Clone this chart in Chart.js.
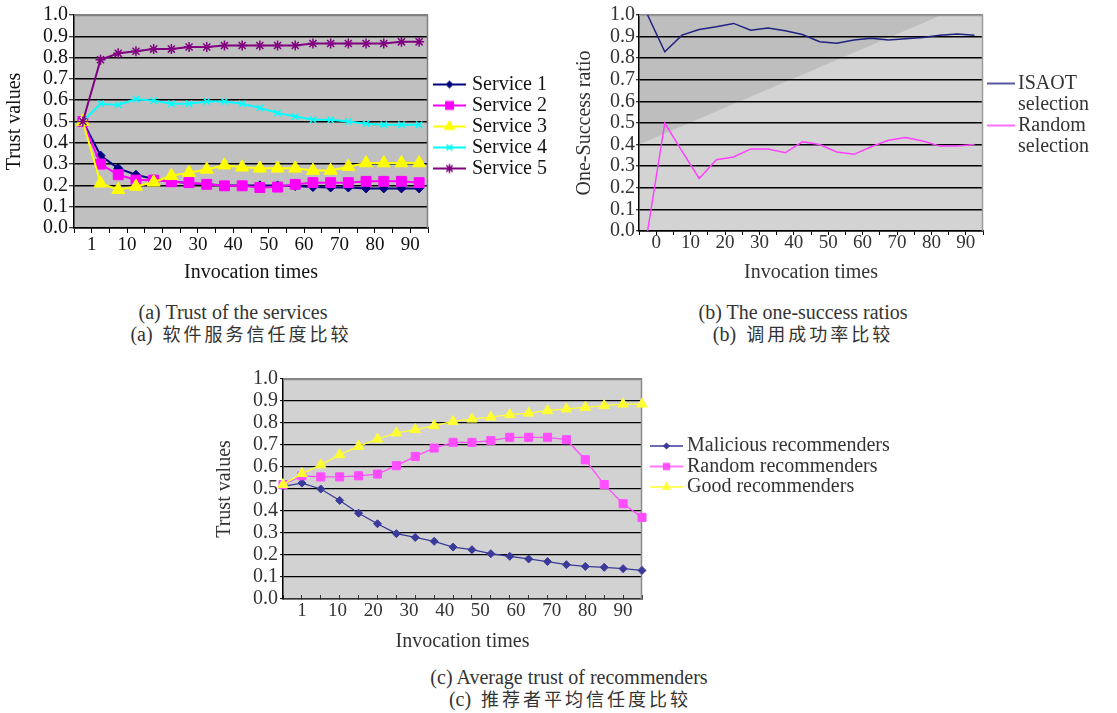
<!DOCTYPE html>
<html>
<head>
<meta charset="utf-8">
<title>Trust charts</title>
<script src="https://cdn.jsdelivr.net/npm/chart.js@4.4.1/dist/chart.umd.min.js"></script>
<style>
  html, body { margin: 0; padding: 0; background: #fff; }
  body { position: relative; width: 1117px; height: 713px; overflow: hidden; font-family: "Liberation Serif", serif; }
  canvas { position: absolute; }
  .cap { position: absolute; transform: translateX(-50%); white-space: nowrap; font-size: 20px; line-height: 22px; color: #333; }
  .cap .zh { font-family: "Noto Sans CJK SC", sans-serif; font-size: 18px; letter-spacing: 3px; }
</style>
</head>
<body>
<canvas id="chartA" width="565" height="292" style="left:0;top:0"></canvas>
<canvas id="chartB" width="547" height="292" style="left:570px;top:0"></canvas>
<canvas id="chartC" width="700" height="300" style="left:205px;top:365px"></canvas>

<div class="cap" style="left:233px;top:301px">(a) Trust of the services</div>
<div class="cap" style="left:241px;top:322px">(a)&nbsp; <span class="zh">软件服务信任度比较</span></div>
<div class="cap" style="left:803px;top:301px">(b) The one-success ratios</div>
<div class="cap" style="left:803px;top:322px">(b)&nbsp; <span class="zh">调用成功率比较</span></div>
<div class="cap" style="left:569px;top:666px">(c) Average trust of recommenders</div>
<div class="cap" style="left:570px;top:687px">(c)&nbsp; <span class="zh">推荐者平均信任度比较</span></div>

<script>
const serif = '"Liberation Serif", "Times New Roman", serif';
Chart.defaults.font.family = serif;

// (a) trust of the services
const aTickLabels = ['1', '10', '20', '30', '40', '50', '60', '70', '80', '90'];
const aNames = ['Service 1', 'Service 2', 'Service 3', 'Service 4', 'Service 5'];
const aService1 = [0.50, 0.34, 0.28, 0.25, 0.23, 0.22, 0.21, 0.205, 0.20, 0.20, 0.20, 0.20, 0.197, 0.192, 0.19, 0.19, 0.186, 0.186, 0.186, 0.186];
const aService2 = [0.50, 0.30, 0.25, 0.225, 0.225, 0.217, 0.213, 0.205, 0.198, 0.198, 0.19, 0.192, 0.205, 0.213, 0.213, 0.213, 0.219, 0.219, 0.219, 0.213];
const aService3 = [0.50, 0.21, 0.18, 0.195, 0.215, 0.245, 0.26, 0.275, 0.295, 0.285, 0.28, 0.28, 0.28, 0.27, 0.27, 0.288, 0.305, 0.305, 0.305, 0.305];
const aService4 = [0.50, 0.583, 0.578, 0.605, 0.598, 0.583, 0.583, 0.594, 0.594, 0.583, 0.564, 0.54, 0.523, 0.508, 0.508, 0.50, 0.49, 0.485, 0.485, 0.485];
const aService5 = [0.50, 0.79, 0.82, 0.83, 0.84, 0.84, 0.85, 0.85, 0.857, 0.857, 0.857, 0.857, 0.857, 0.866, 0.866, 0.866, 0.866, 0.866, 0.874, 0.874];

// (b) one-success ratios
const bTickLabels = ['0', '10', '20', '30', '40', '50', '60', '70', '80', '90'];
const bNames = [['ISAOT', 'selection'], ['Random', 'selection']];
const bIsaot = [1.0, 0.83, 0.907, 0.933, 0.946, 0.961, 0.93, 0.94, 0.927, 0.91, 0.876, 0.869, 0.884, 0.892, 0.884, 0.89, 0.896, 0.906, 0.912, 0.906];
const bRandom = [0.0, 0.50, 0.37, 0.243, 0.33, 0.343, 0.38, 0.38, 0.362, 0.413, 0.40, 0.366, 0.355, 0.39, 0.42, 0.433, 0.417, 0.393, 0.393, 0.40];

// (c) average trust of recommenders
const cTickLabels = ['1', '10', '20', '30', '40', '50', '60', '70', '80', '90'];
const cNames = ['Malicious recommenders', 'Random recommenders', 'Good recommenders'];
const cMalicious = [0.512, 0.527, 0.50, 0.448, 0.39, 0.342, 0.297, 0.28, 0.262, 0.236, 0.224, 0.206, 0.194, 0.182, 0.17, 0.156, 0.148, 0.144, 0.138, 0.13];
const cRandom = [0.52, 0.56, 0.555, 0.555, 0.56, 0.568, 0.606, 0.648, 0.686, 0.712, 0.712, 0.72, 0.735, 0.735, 0.735, 0.724, 0.633, 0.52, 0.433, 0.371];
const cGood = [0.52, 0.57, 0.61, 0.656, 0.694, 0.727, 0.755, 0.77, 0.788, 0.807, 0.818, 0.827, 0.838, 0.845, 0.856, 0.864, 0.871, 0.879, 0.886, 0.886];

function pts(arr) {
  return arr.map((y, i) => ({x: i, y: y}));
}

// small legend picture: a line with the marker in its middle
function makeIcon(color, style, width, r, lw) {
  const c = document.createElement('canvas');
  c.width = width;
  c.height = 18;
  const g = c.getContext('2d');
  const y = 9, cx = width / 2;
  g.strokeStyle = color;
  g.fillStyle = color;
  g.lineWidth = lw;
  g.beginPath();
  g.moveTo(0, y);
  g.lineTo(width, y);
  g.stroke();
  g.lineWidth = 1.5;
  g.beginPath();
  if (style === 'rectRot') {
    g.moveTo(cx - r, y); g.lineTo(cx, y - r); g.lineTo(cx + r, y); g.lineTo(cx, y + r);
    g.closePath(); g.fill();
  } else if (style === 'rect') {
    const s = r * Math.SQRT1_2;
    g.fillRect(cx - s, y - s, 2 * s, 2 * s);
  } else if (style === 'triangle') {
    g.moveTo(cx, y - r); g.lineTo(cx + r * 0.866, y + r / 2); g.lineTo(cx - r * 0.866, y + r / 2);
    g.closePath(); g.fill();
  } else if (style === 'crossRot' || style === 'star') {
    const d = r * Math.SQRT1_2;
    g.moveTo(cx - d, y - d); g.lineTo(cx + d, y + d);
    g.moveTo(cx + d, y - d); g.lineTo(cx - d, y + d);
    if (style === 'star') {
      g.moveTo(cx, y - r); g.lineTo(cx, y + r);
      g.moveTo(cx - r, y); g.lineTo(cx + r, y);
    }
    g.stroke();
  }
  return c;
}

function lineSet(label, data, color, style, radius, lw, order) {
  const thin = style === 'star' || style === 'crossRot';
  return {
    label: label, data: pts(data), order: order,
    borderColor: color, backgroundColor: color, borderWidth: lw, tension: 0, clip: false,
    pointStyle: style, pointRadius: radius, pointHoverRadius: radius,
    pointBackgroundColor: color, pointBorderColor: color, pointBorderWidth: thin ? 1.5 : 1
  };
}

// grey plot background, and the grey frame on top/right
const plotBg = {
  id: 'plotBg',
  beforeDraw(chart, args, opts) {
    const {ctx, chartArea: a} = chart;
    ctx.save();
    ctx.fillStyle = opts.color;
    ctx.fillRect(a.left, a.top, a.width, a.height);
    if (opts.shade) {
      const y0 = chart.scales.y.getPixelForValue(opts.shade.from);
      ctx.fillStyle = opts.shade.color;
      ctx.beginPath();
      ctx.moveTo(a.left, a.top);
      ctx.lineTo(a.left + a.width * opts.shade.to, a.top);
      ctx.lineTo(a.left, y0);
      ctx.closePath();
      ctx.fill();
    }
    ctx.restore();
  },
  beforeDatasetsDraw(chart, args, opts) {
    const {ctx, chartArea: a} = chart;
    ctx.save();
    ctx.strokeStyle = opts.frame;
    ctx.lineWidth = 1.5;
    ctx.beginPath();
    ctx.moveTo(a.left, a.top + 0.5);
    ctx.lineTo(a.right - 0.5, a.top + 0.5);
    ctx.lineTo(a.right - 0.5, a.bottom);
    ctx.stroke();
    ctx.restore();
  }
};

// Excel-like legend to the right of the plot: line+marker, then the text
const sideLegend = {
  id: 'sideLegend',
  afterDraw(chart, args, o) {
    if (!o.icons) return;
    const {ctx, chartArea: a} = chart;
    ctx.save();
    ctx.font = '20px ' + serif;
    ctx.fillStyle = o.color;
    ctx.textBaseline = 'middle';
    ctx.textAlign = 'left';
    let y = a.top + o.top;
    chart.data.datasets.forEach((ds, i) => {
      const lines = [].concat(o.texts ? o.texts[i] : ds.label);
      const icon = o.icons[i];
      ctx.drawImage(icon, a.right + o.iconX, y - icon.height / 2);
      lines.forEach((t, j) => ctx.fillText(t, a.right + o.textX, y + j * o.row));
      y += o.row * lines.length;
    });
    ctx.restore();
  }
};
Chart.register(plotBg, sideLegend);

function yAxis(title, width, tl, pad, titlePad, textColor, gridW) {
  return {
    min: 0, max: 1,
    ticks: {stepSize: 0.1, autoSkip: false, padding: pad, color: textColor,
      font: {family: serif, size: 20, lineHeight: 1}, callback: v => v.toFixed(1)},
    grid: {color: c => (c.tick && c.tick.value > 0.999) ? '#808080' : '#000', lineWidth: gridW,
      tickLength: tl, tickColor: '#000', tickWidth: 1},
    border: {color: '#000', width: 1.5},
    title: {display: true, text: title, color: textColor,
      font: {family: serif, size: 20, lineHeight: 1.2}, padding: {top: titlePad, bottom: 0}},
    afterFit(s) { s.width = width; }
  };
}

// x axis whose labels sit between the points (a, b)
function xBoundaryAxis(labels, height, tl, pad, titlePad, textColor) {
  const marks = [];
  for (let i = -1; i < 20; i++) marks.push(i + 0.5);
  return {
    type: 'linear', min: -0.5, max: 19.5,
    afterBuildTicks(s) { s.ticks = marks.map(v => ({value: v})); },
    ticks: {autoSkip: false, maxRotation: 0, padding: pad, color: textColor,
      font: {family: serif, size: 19, lineHeight: 1},
      callback(v) {
        const k = (v - 0.5) / 2;
        return (Number.isInteger(k) && k >= 0 && k < labels.length) ? labels[k] : '';
      }},
    grid: {drawOnChartArea: false, tickLength: tl, tickColor: '#000', tickWidth: 1},
    border: {color: '#000', width: 1.5},
    title: {display: true, text: 'Invocation times', color: textColor,
      font: {family: serif, size: 20, lineHeight: 1.2}, padding: {top: 0, bottom: titlePad}},
    afterFit(s) { s.height = height; }
  };
}

// x axis for (c): inner tick marks on the points, labels spread a bit narrower
function xPointAxis(labels, height, tl, pad, titlePad, textColor) {
  const marks = [];
  for (let i = 0; i < 20; i++) marks.push(i);
  const step = 17 / (labels.length - 1);
  const spots = labels.map((l, k) => 1 + k * step);
  const isInt = v => Math.abs(v - Math.round(v)) < 1e-6;
  const all = marks.concat(spots.filter(v => !isInt(v))).sort((p, q) => p - q);
  return {
    type: 'linear', min: 0, max: 19,
    afterBuildTicks(s) { s.ticks = all.map(v => ({value: v})); },
    ticks: {autoSkip: false, maxRotation: 0, padding: pad, color: textColor,
      font: {family: serif, size: 19, lineHeight: 1},
      callback(v) {
        const k = spots.findIndex(p => Math.abs(p - v) < 1e-6);
        return k >= 0 ? labels[k] : '';
      }},
    grid: {drawOnChartArea: false, tickLength: tl, tickWidth: 1,
      tickColor: c => (!c.tick || isInt(c.tick.value)) ? '#333' : 'rgba(0,0,0,0)'},
    border: {color: '#333', width: 1.5},
    title: {display: true, text: 'Invocation times', color: textColor,
      font: {family: serif, size: 20, lineHeight: 1.2}, padding: {top: 0, bottom: titlePad}},
    afterFit(s) { s.height = height; }
  };
}

const common = {responsive: false, animation: false, devicePixelRatio: 1, events: []};

// ---- chart (a)
const aColors = ['#000080', '#FF00FF', '#FFFF00', '#00FFFF', '#800080'];
const aStyles = ['rectRot', 'rect', 'triangle', 'crossRot', 'star'];
const aRadius = [4.5, 7, 7.5, 4.5, 5];
const aIcons = aColors.map((c, i) => makeIcon(c, aStyles[i], 33, aRadius[i] * 0.9, 2));
const aSeries = [aService1, aService2, aService3, aService4, aService5];

new Chart(document.getElementById('chartA'), {
  type: 'line',
  data: {datasets: aSeries.map((s, i) => lineSet(aNames[i], s, aColors[i], aStyles[i], aRadius[i], 2, -i))},
  options: Object.assign({}, common, {
    layout: {autoPadding: false, padding: {left: 0, top: 15, right: 565 - 428, bottom: 2}},
    scales: {
      x: xBoundaryAxis(aTickLabels, 62, 5, 2.5, 5, '#111'),
      y: yAxis('Trust values', 74, 5, 1, 3, '#111', 1.5)
    },
    plugins: {
      legend: {display: false},
      tooltip: {enabled: false},
      plotBg: {color: '#C0C0C0', frame: '#808080'},
      sideLegend: {icons: aIcons, color: '#111', iconX: 5, textX: 44, top: 69.5, row: 21}
    }
  })
});

// ---- chart (b)
const bColors = ['#202080', '#FF40FF'];
const bIcons = bColors.map(c => makeIcon(c, 'none', 28, 0, 1.5));
const bSeries = [bIsaot, bRandom];

new Chart(document.getElementById('chartB'), {
  type: 'line',
  data: {datasets: bSeries.map((s, i) => lineSet(bNames[i].join(' '), s, bColors[i], false, 0, 1.5, -i))},
  options: Object.assign({}, common, {
    layout: {autoPadding: false, padding: {left: 0, top: 15, right: 547 - 413, bottom: 2}},
    scales: {
      x: xBoundaryAxis(bTickLabels, 59, 4, -1.5, 5, '#333'),
      y: yAxis('One-Success ratio', 69, 3, 1, 3, '#333', 1.5)
    },
    plugins: {
      legend: {display: false},
      tooltip: {enabled: false},
      plotBg: {color: '#D3D3D3', frame: '#9A9A9A', shade: {color: '#BEBEBE', from: 0.4, to: 0.88}},
      sideLegend: {icons: bIcons, texts: bNames, color: '#333', iconX: 4, textX: 35, top: 68.5, row: 21}
    }
  })
});

// ---- chart (c)
const cColors = ['#3A3A9A', '#FF4DFF', '#FFFF33'];
const cStyles = ['rectRot', 'rect', 'triangle'];
const cRadius = [4, 5.7, 6];
const cIcons = cColors.map((c, i) => makeIcon(c, cStyles[i], 33, cRadius[i] * 0.9, 1.5));
const cSeries = [cMalicious, cRandom, cGood];

new Chart(document.getElementById('chartC'), {
  type: 'line',
  data: {datasets: cSeries.map((s, i) => lineSet(cNames[i], s, cColors[i], cStyles[i], cRadius[i], 1.3, -i))},
  options: Object.assign({}, common, {
    layout: {autoPadding: false, padding: {left: 0, top: 14, right: 700 - 437, bottom: 2}},
    scales: {
      x: xPointAxis(cTickLabels, 64, -4, 6.9, 9.3, '#333'),
      y: yAxis('Trust values', 78, 3, 2, 8, '#333', 1.2)
    },
    plugins: {
      legend: {display: false},
      tooltip: {enabled: false},
      plotBg: {color: '#D2D2D2', frame: '#8A8A8A'},
      sideLegend: {icons: cIcons, color: '#333', iconX: 8, textX: 45, top: 67, row: 20.5}
    }
  })
});
</script>
</body>
</html>
